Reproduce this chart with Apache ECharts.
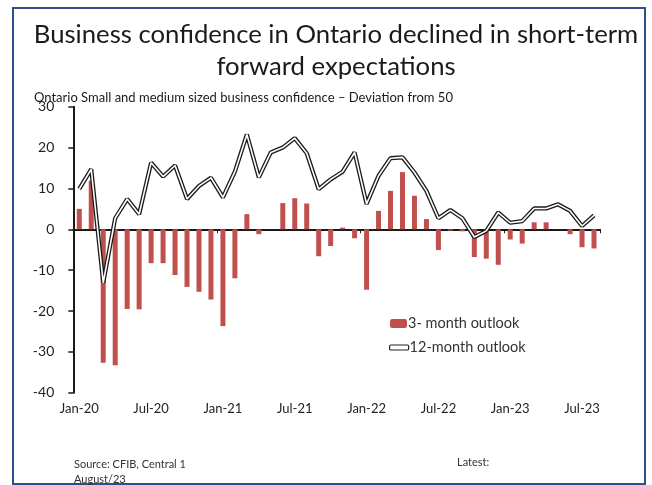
<!DOCTYPE html>
<html>
<head>
<meta charset="utf-8">
<script src="https://cdn.jsdelivr.net/npm/echarts@6/dist/echarts.min.js"></script>
<style>
html,body{margin:0;padding:0;background:#fff;}
#chart{width:652px;height:485px;}
</style>
</head>
<body>
<div id="chart"></div>
<script>
var months = ['Jan-20','Feb-20','Mar-20','Apr-20','May-20','Jun-20','Jul-20','Aug-20','Sep-20','Oct-20','Nov-20','Dec-20',
  'Jan-21','Feb-21','Mar-21','Apr-21','May-21','Jun-21','Jul-21','Aug-21','Sep-21','Oct-21','Nov-21','Dec-21',
  'Jan-22','Feb-22','Mar-22','Apr-22','May-22','Jun-22','Jul-22','Aug-22','Sep-22','Oct-22','Nov-22','Dec-22',
  'Jan-23','Feb-23','Mar-23','Apr-23','May-23','Jun-23','Jul-23','Aug-23'];
var outlook3m = [5.0, 11.9, -32.7, -33.3, -19.5, -19.6, -8.3, -8.3, -11.2, -14.1, -15.3, -17.2,
  -23.7, -12.0, 3.7, -1.2, 0, 6.4, 7.6, 6.3, -6.6, -4.1, 0.4, -2.2,
  -14.8, 4.5, 9.4, 14.0, 8.2, 2.5, -5.1, -0.3, -0.5, -6.8, -7.2, -8.7,
  -2.5, -3.5, 1.7, 1.7, 0, -1.2, -4.4, -4.7];
var outlook12m = [9.9, 14.7, -13.1, 2.7, 7.4, 3.7, 16.3, 12.9, 15.6, 7.4, 10.6, 12.6,
  7.8, 14.1, 23.2, 12.7, 18.8, 20.0, 22.3, 18.6, 9.8, 12.2, 14.1, 18.8,
  6.2, 13.1, 17.4, 17.6, 13.9, 9.4, 2.7, 4.7, 2.7, -1.9, -0.4, 4.1,
  1.6, 2.0, 5.1, 5.1, 6.1, 4.5, 0.8, 3.4];
var yTicks = [-40, -30, -20, -10, 0, 10, 20, 30];
var shownLabels = ['Jan-20','Jul-20','Jan-21','Jul-21','Jan-22','Jul-22','Jan-23','Jul-23'];

var FONT = 'Lato';
var chart = echarts.init(document.getElementById('chart'), null, {renderer: 'canvas'});
chart.setOption({
  animation: false,
  backgroundColor: '#fff',
  textStyle: {fontFamily: FONT},
  title: [{
    text: 'Business confidence in Ontario declined in short-term\nforward expectations',
    left: 331, top: 14, textAlign: 'center',
    textStyle: {fontFamily: FONT, fontSize: 25.7, fontWeight: 'normal', color: '#1a1a1a', lineHeight: 32}
  }, {
    text: 'Ontario Small and medium sized business confidence \u2013 Deviation from 50',
    left: 29, top: 86,
    textStyle: {fontFamily: FONT, fontSize: 13, fontWeight: 'normal', color: '#1a1a1a'}
  }],
  graphic: [{
    type: 'rect', silent: true,
    shape: {x: 13, y: 8, width: 632, height: 476},
    style: {fill: 'none', stroke: '#2F4E8C', lineWidth: 2}
  }, {
    type: 'text', left: 74, top: 457,
    style: {text: 'Source: CFIB, Central 1\nAugust/23', fontFamily: FONT, fontSize: 11, lineHeight: 15, fill: '#333'}
  }, {
    type: 'text', left: 457, top: 457,
    style: {text: 'Latest:', fontFamily: FONT, fontSize: 11, fill: '#333'}
  }],
  legend: [{
    data: ['3- month outlook'],
    orient: 'vertical', left: 390, top: 316, padding: 0,
    itemWidth: 17, itemHeight: 9,
    textStyle: {fontFamily: FONT, fontSize: 14.5, color: '#333', padding: [0, 0, 0, -4]}
  }, {
    data: [{name: '12-month outlook', icon: 'roundRect',
      itemStyle: {color: '#fff', borderColor: '#222', borderWidth: 1.2}}],
    orient: 'vertical', left: 389, top: 340, padding: 0,
    itemWidth: 19, itemHeight: 5,
    textStyle: {fontFamily: FONT, fontSize: 14.5, color: '#333', padding: [0, 0, 0, -4]}
  }],
  grid: {left: 73.3, right: 52, top: 106.7, bottom: 92.3, containLabel: false},
  xAxis: [{
    type: 'category', data: months, boundaryGap: true,
    axisLine: {show: false, onZero: false},
    axisTick: {show: false},
    axisLabel: {
      interval: 0, margin: 10, color: '#222', fontFamily: FONT, fontSize: 13,
      formatter: function (v) { return shownLabels.indexOf(v) >= 0 ? v : ''; }
    },
    splitLine: {show: false}
  }, {
    type: 'category', data: months, boundaryGap: true, position: 'bottom',
    axisLine: {show: true, onZero: true, lineStyle: {color: '#1a1a1a', width: 2}},
    axisTick: {show: true, length: 4, lineStyle: {color: '#1a1a1a', width: 1},
      interval: function (i) { return i % 12 === 0; }},
    axisLabel: {show: false},
    splitLine: {show: false}
  }],
  yAxis: {
    type: 'value', min: -40, max: 30, interval: 10,
    axisLine: {show: true, lineStyle: {color: '#1a1a1a', width: 2}},
    axisTick: {show: true, length: 5, lineStyle: {color: '#1a1a1a', width: 1.5}},
    axisLabel: {color: '#222', fontFamily: FONT, fontSize: 14, margin: 19,
      formatter: function (v) { return yTicks.indexOf(v) >= 0 ? String(v) : ''; }},
    splitLine: {show: false}
  },
  series: [{
    name: '3- month outlook', type: 'bar', data: outlook3m, barWidth: 5,
    xAxisIndex: 0,
    itemStyle: {color: '#C0504D'}, z: 2
  }, {
    name: '12-month outlook', type: 'line', data: outlook12m, xAxisIndex: 0,
    symbol: 'none', lineStyle: {color: '#1a1a1a', width: 4.2}, itemStyle: {color: '#1a1a1a'}, z: 3
  }, {
    name: '12-month inner', type: 'line', data: outlook12m, xAxisIndex: 0,
    symbol: 'none', lineStyle: {color: '#fff', width: 1.6}, itemStyle: {color: '#fff'}, z: 4
  }]
});
</script>
</body>
</html>
